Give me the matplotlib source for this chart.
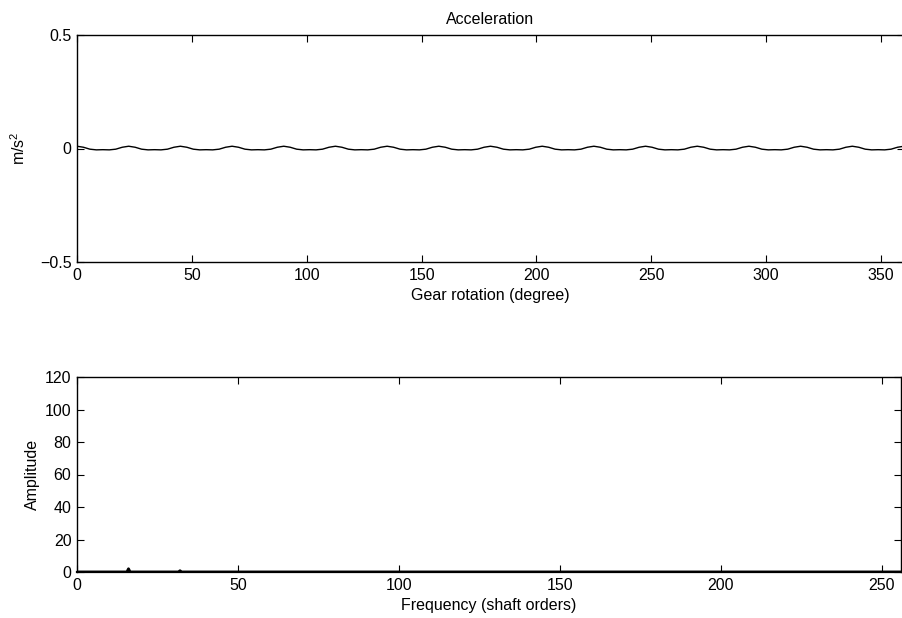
import matplotlib
matplotlib.use("Agg")
import matplotlib.pyplot as plt

plt.rcParams['font.family'] = ['Liberation Sans', 'DejaVu Sans']
plt.rcParams['font.size'] = 11.5
plt.rcParams['mathtext.fontset'] = 'custom'
plt.rcParams['mathtext.rm'] = 'Liberation Sans'

# Top: acceleration vs gear rotation (samples every 22.5/8 degrees)
angle_step = 22.5 / 8
accel = [
    0.0100, 0.0055, -0.0030, -0.0060, -0.0052, -0.0060, -0.0030, 0.0055,
    0.0100, 0.0055, -0.0030, -0.0060, -0.0052, -0.0060, -0.0030, 0.0055,
    0.0100, 0.0055, -0.0030, -0.0060, -0.0052, -0.0060, -0.0030, 0.0055,
    0.0100, 0.0055, -0.0030, -0.0060, -0.0052, -0.0060, -0.0030, 0.0055,
    0.0100, 0.0055, -0.0030, -0.0060, -0.0052, -0.0060, -0.0030, 0.0055,
    0.0100, 0.0055, -0.0030, -0.0060, -0.0052, -0.0060, -0.0030, 0.0055,
    0.0100, 0.0055, -0.0030, -0.0060, -0.0052, -0.0060, -0.0030, 0.0055,
    0.0100, 0.0055, -0.0030, -0.0060, -0.0052, -0.0060, -0.0030, 0.0055,
    0.0100, 0.0055, -0.0030, -0.0060, -0.0052, -0.0060, -0.0030, 0.0055,
    0.0100, 0.0055, -0.0030, -0.0060, -0.0052, -0.0060, -0.0030, 0.0055,
    0.0100, 0.0055, -0.0030, -0.0060, -0.0052, -0.0060, -0.0030, 0.0055,
    0.0100, 0.0055, -0.0030, -0.0060, -0.0052, -0.0060, -0.0030, 0.0055,
    0.0100, 0.0055, -0.0030, -0.0060, -0.0052, -0.0060, -0.0030, 0.0055,
    0.0100, 0.0055, -0.0030, -0.0060, -0.0052, -0.0060, -0.0030, 0.0055,
    0.0100, 0.0055, -0.0030, -0.0060, -0.0052, -0.0060, -0.0030, 0.0055,
    0.0100, 0.0055, -0.0030, -0.0060, -0.0052, -0.0060, -0.0030, 0.0055,
    0.0100,
]
angles = [i * angle_step for i in range(len(accel))]

top_xticks = [0, 50, 100, 150, 200, 250, 300, 350]
top_yticks = [-0.5, 0, 0.5]
top_yticklabels = ['\u22120.5', '0', '0.5']

# Bottom: amplitude spectrum (shaft orders)
spec_orders = [0, 15.5, 16, 16.5, 31.5, 32, 32.5, 256]
spec_amp = [0, 0, 2.0, 0, 0, 0.8, 0, 0]
bot_xticks = [0, 50, 100, 150, 200, 250]
bot_yticks = [0, 20, 40, 60, 80, 100, 120]

fig = plt.figure(figsize=(9.02, 6.18), dpi=100)
ax1 = fig.add_axes([77/902, 1-262/618, 827/902, 227/618])
ax2 = fig.add_axes([77/902, 1-572/618, 824/902, 195/618])

ax1.plot(angles, accel, color='black', lw=1.0)
ax1.set_xlim(0, 360)
ax1.set_ylim(-0.5, 0.5)
ax1.set_xticks(top_xticks)
ax1.set_yticks(top_yticks)
ax1.set_yticklabels(top_yticklabels)
ax1.set_title('Acceleration', pad=8, fontsize=11.5)
ax1.set_xlabel('Gear rotation (degree)', labelpad=4)
ax1.set_ylabel('m/s$^2$')
ax1.yaxis.set_label_coords(-49/827, 0.5)

ax2.plot(spec_orders, spec_amp, color='black', lw=2.0)
ax2.set_xlim(0, 256)
ax2.set_ylim(0, 120)
ax2.set_xticks(bot_xticks)
ax2.set_yticks(bot_yticks)
ax2.set_xlabel('Frequency (shaft orders)', labelpad=4)
ax2.set_ylabel('Amplitude')
ax2.yaxis.set_label_coords(-37/824, 0.5)

for ax in (ax1, ax2):
    ax.tick_params(direction='in', top=True, right=True, length=5, width=0.8,
                   labelsize=11.5, pad=4)
    for s in ax.spines.values():
        s.set_linewidth(1.0)
ax2.spines['bottom'].set_linewidth(1.6)

fig.savefig('out.png', dpi=100)
